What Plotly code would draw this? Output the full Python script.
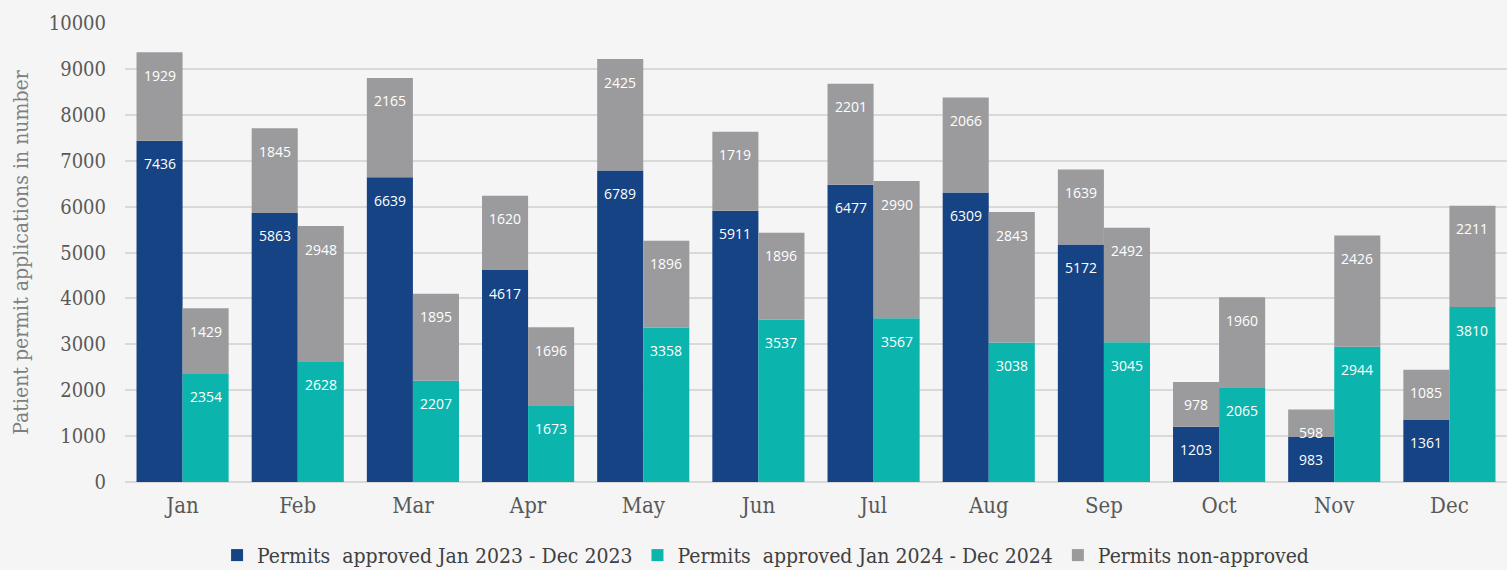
import plotly.graph_objects as go

months = ["Jan", "Feb", "Mar", "Apr", "May", "Jun", "Jul", "Aug", "Sep", "Oct", "Nov", "Dec"]
approved_2023 = [7436, 5863, 6639, 4617, 6789, 5911, 6477, 6309, 5172, 1203, 983, 1361]
nonapproved_2023 = [1929, 1845, 2165, 1620, 2425, 1719, 2201, 2066, 1639, 978, 598, 1085]
approved_2024 = [2354, 2628, 2207, 1673, 3358, 3537, 3567, 3038, 3045, 2065, 2944, 3810]
nonapproved_2024 = [1429, 2948, 1895, 1696, 1896, 1896, 2990, 2843, 2492, 1960, 2426, 2211]

BLUE = "#154384"
TEAL = "#0bb5ad"
GREY = "#9b9b9d"
SERIF = "DejaVu Serif Condensed, DejaVu Serif, Liberation Serif, serif"
LABEL_FONT = dict(family="Open Sans, Noto Sans, sans-serif", size=14, color="white")

fig = go.Figure()
fig.add_trace(go.Bar(x=months, y=approved_2023, name="Permits  approved Jan 2023 - Dec 2023",
                     marker=dict(color=BLUE, line=dict(width=0)), offsetgroup="a", legendrank=1))
fig.add_trace(go.Bar(x=months, y=nonapproved_2023, base=approved_2023, name="Permits non-approved",
                     marker=dict(color=GREY, line=dict(width=0)), offsetgroup="a", legendrank=3))
fig.add_trace(go.Bar(x=months, y=approved_2024, name="Permits  approved Jan 2024 - Dec 2024",
                     marker=dict(color=TEAL, line=dict(width=0)), offsetgroup="b", legendrank=2))
fig.add_trace(go.Bar(x=months, y=nonapproved_2024, base=approved_2024, name="Permits non-approved",
                     marker=dict(color=GREY, line=dict(width=0)), offsetgroup="b", showlegend=False))

# data labels near the inside end of each segment
annotations = []
for i, m in enumerate(months):
    segs = [
        (approved_2023[i], approved_2023[i], -23),
        (nonapproved_2023[i], approved_2023[i] + nonapproved_2023[i], -23),
        (approved_2024[i], approved_2024[i], 23),
        (nonapproved_2024[i], approved_2024[i] + nonapproved_2024[i], 23),
    ]
    for val, top, dx in segs:
        annotations.append(dict(x=m, y=top, xref="x", yref="y", text=str(val), showarrow=False,
                                xshift=dx, yshift=-23, yanchor="middle", xanchor="center",
                                font=LABEL_FONT))

fig.update_layout(
    width=1507, height=570,
    barmode="group", bargap=0.2, bargroupgap=0,
    paper_bgcolor="#f5f5f5", plot_bgcolor="#f5f5f5",
    margin=dict(l=125, r=0, t=23, b=88, autoexpand=False),
    font=dict(family=SERIF, color="#595959"),
    legend=dict(orientation="h", xref="container", x=0.508, xanchor="center",
                yref="paper", y=-0.16, yanchor="middle",
                font=dict(family=SERIF, size=21, color="#404040"),
                traceorder="normal", itemwidth=30),
    showlegend=True,
    annotations=annotations,
)
fig.update_yaxes(range=[0, 10000], dtick=1000, tickformat="d", showgrid=True,
                 gridcolor="#d9d9d9", gridwidth=2,
                 zeroline=True, zerolinecolor="#d9d9d9", zerolinewidth=2,
                 tickfont=dict(family=SERIF, size=20, color="#595959"), ticklabelstandoff=18,
                 title=dict(text="Patient permit applications in number",
                            font=dict(family=SERIF, size=21, color="#7f7f7f"), standoff=14))
fig.update_xaxes(tickfont=dict(family=SERIF, size=22, color="#595959"), ticklabelstandoff=8,
                 showline=False, automargin=False)
fig.update_yaxes(automargin=False)

fig.write_html("out.html", config={"displayModeBar": False},
               post_script="document.body.style.margin='0';")
